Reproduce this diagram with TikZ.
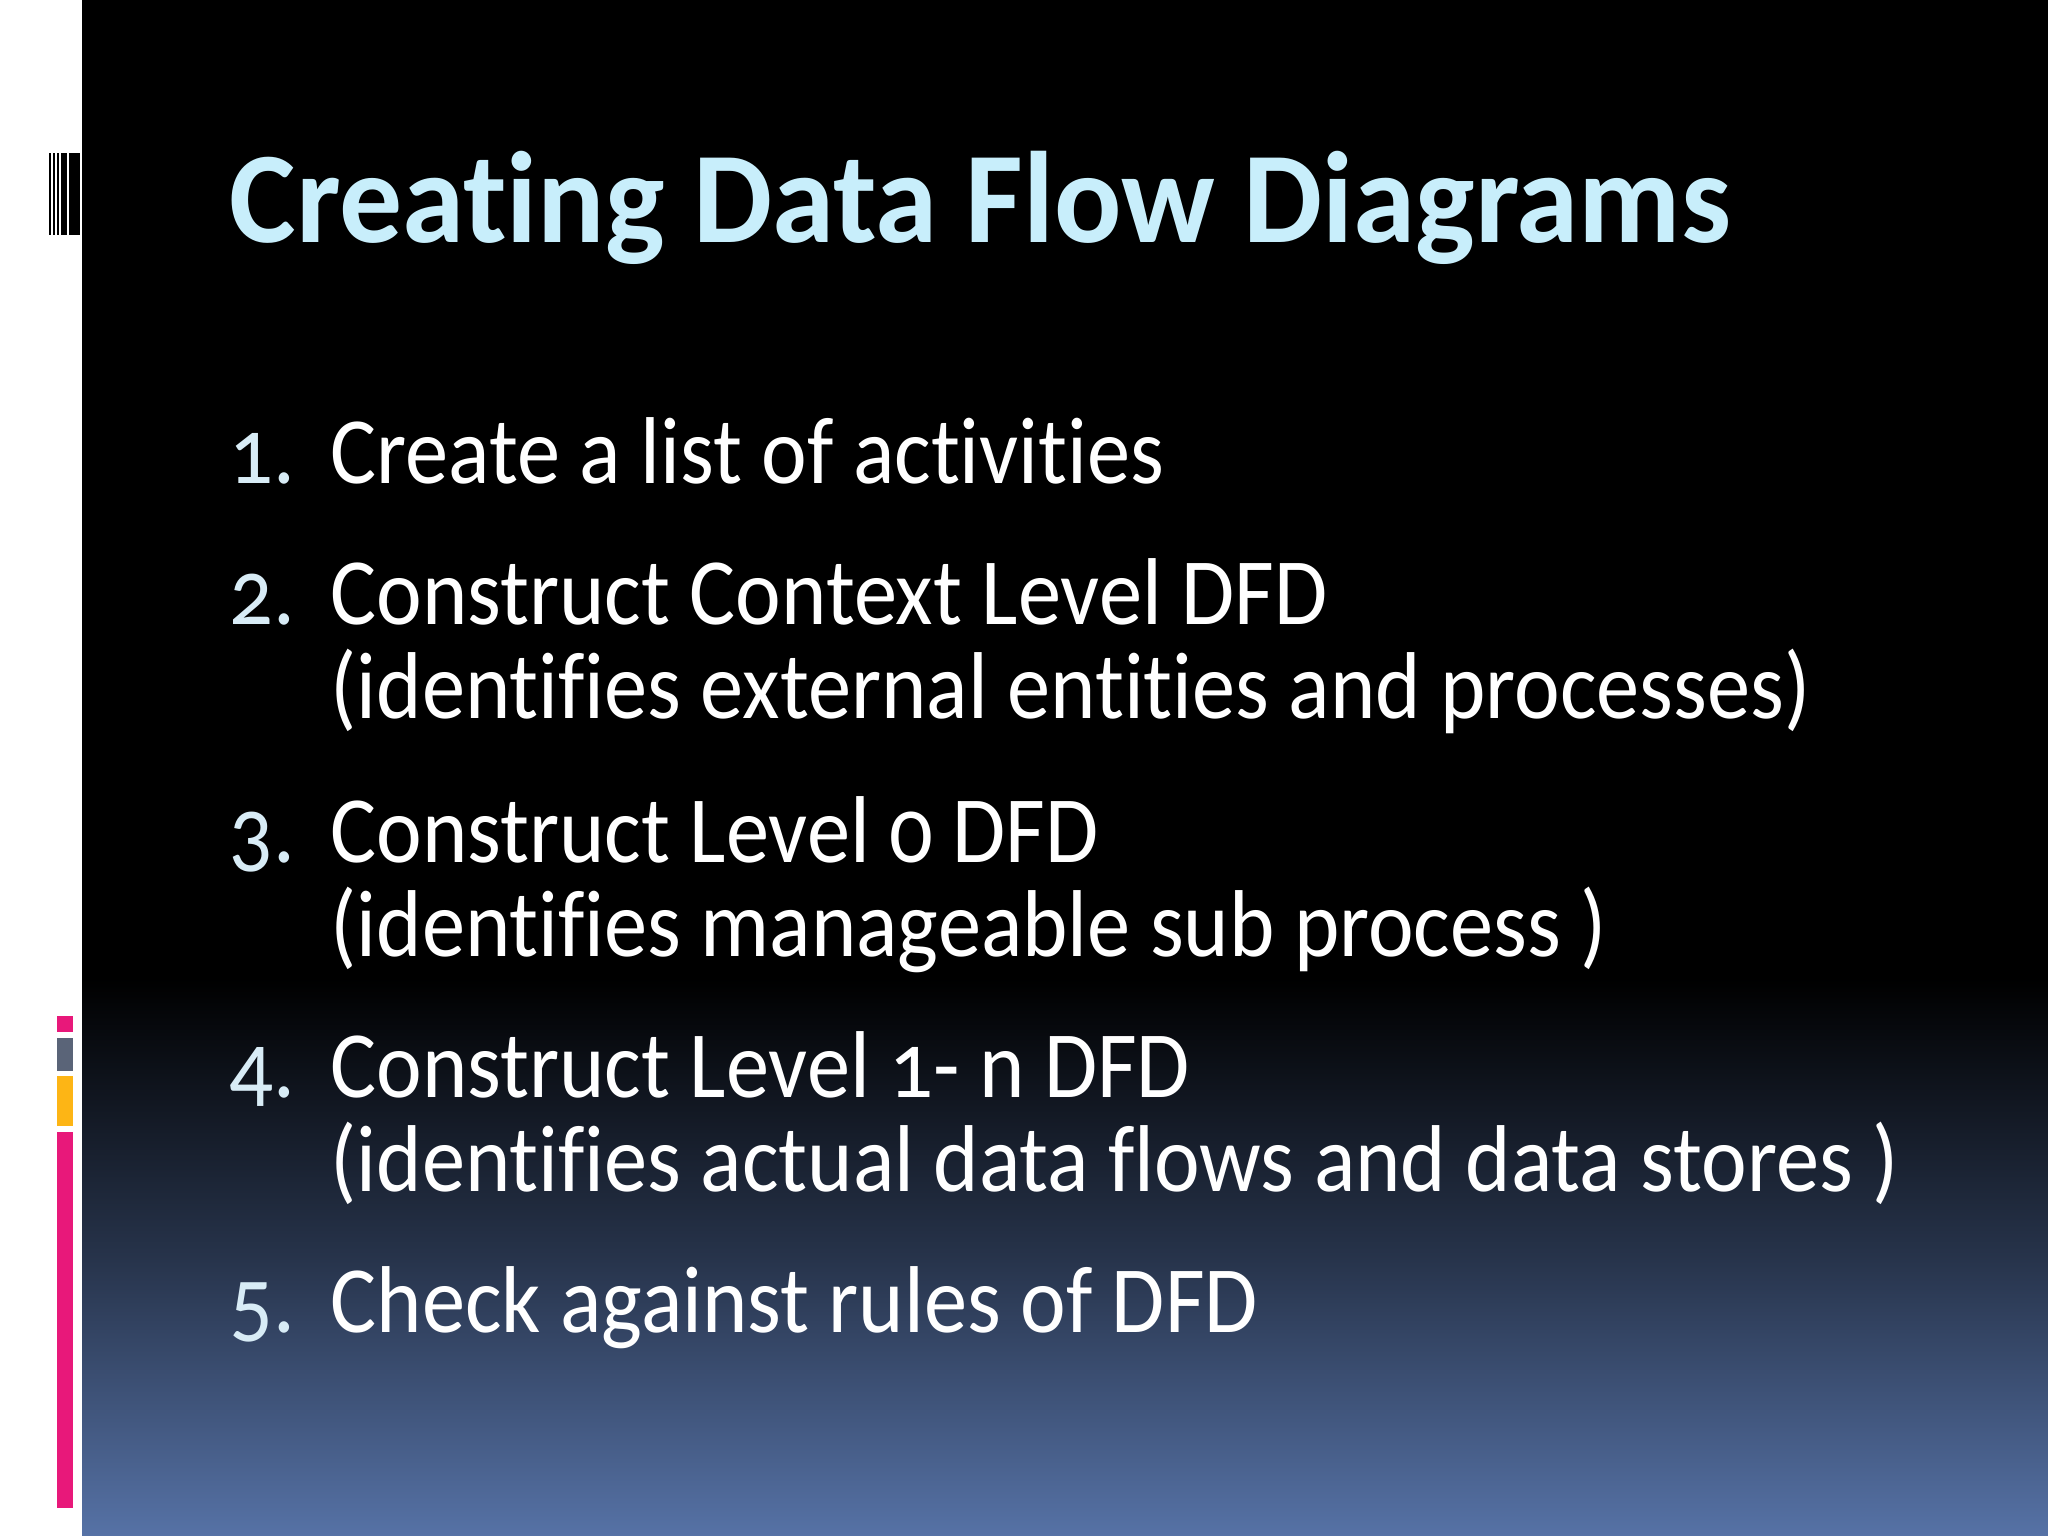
\documentclass[tikz,border=0pt]{standalone}
\usepackage{fontspec}
\setmainfont{Carlito}[Ligatures=NoCommon]
\newfontfamily\numfont[Numbers=OldStyle,FakeStretch=0.91]{Carlito}
\newfontfamily\itemfont[FakeStretch=0.91,Ligatures=NoCommon]{Carlito}
\newfontfamily\titlefont[FakeStretch=0.965,Ligatures=NoCommon]{Carlito}
\definecolor{titlec}{HTML}{C8EEFB}
\definecolor{numc}{HTML}{D8ECF6}
\definecolor{botc}{HTML}{5672A6}
\definecolor{pinkc}{HTML}{E8187A}
\definecolor{grayc}{HTML}{5A6478}
\definecolor{yelc}{HTML}{FDB515}
\tikzset{
  ttl/.style={anchor=base west,inner sep=0pt,text=titlec,font=\fontsize{37}{40}\selectfont\titlefont\bfseries},
  num/.style={anchor=base west,inner sep=0pt,text=numc,font=\fontsize{27}{30}\selectfont\numfont},
  itm/.style={anchor=base west,inner sep=0pt,text=white,font=\fontsize{27}{30}\selectfont\itemfont}
}
\begin{document}
\begin{tikzpicture}[x=0.01cm,y=-0.01cm]
\useasboundingbox (0,0) rectangle (2048,1536);
\fill[white] (0,0) rectangle (82,1536);
\fill[black] (82,0) rectangle (2048,980);
\shade[top color=black,bottom color=botc,middle color=black!55!botc] (82,978) rectangle (2048,1536);
% barcode
\foreach \a/\b in {49/51,53/55,57/59,61/67,69/80}{\fill[black] (\a,153) rectangle (\b,235);}
% colour bars
\fill[pinkc] (57,1016) rectangle (73,1032);
\fill[grayc] (57,1038) rectangle (73,1071);
\fill[yelc] (57,1076) rectangle (73,1126);
\fill[pinkc] (57,1132) rectangle (73,1508);
\node[ttl] (title) at (229,242) {Creating Data Flow Diagrams};
\node[num] (n1) at (229,483) {1.};
\node[itm] (t1) at (330,483) {Create a list of activities};
\node[num] (n2) at (229,624) {2.};
\node[itm] (t2) at (330,624) {Construct Context Level DFD};
\node[itm] (t2b) at (330,718) {(identifies external entities and processes)};
\node[num] (n3) at (229,862) {3.};
\node[itm] (t3) at (330,862) {Construct Level {\numfont 0} DFD};
\node[itm] (t3b) at (330,956) {(identifies manageable sub process )};
\node[num] (n4) at (229,1097) {4.};
\node[itm] (t4) at (330,1097) {Construct Level {\numfont 1}- n DFD};
\node[itm] (t4b) at (330,1191) {(identifies actual data flows and data stores )};
\node[num] (n5) at (229,1332) {5.};
\node[itm] (t5) at (330,1332) {Check against rules of DFD};
\end{tikzpicture}
\end{document}
